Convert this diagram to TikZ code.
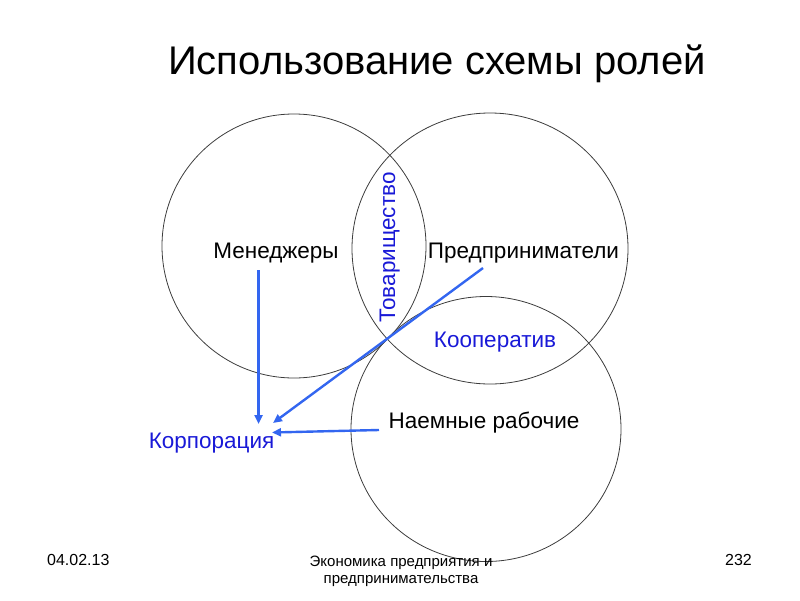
\documentclass[tikz,border=0pt]{standalone}
\usepackage{fontspec}
\setmainfont{Liberation Sans}
\usetikzlibrary{arrows.meta}
\definecolor{arrblue}{RGB}{51,102,240}
\definecolor{txtblue}{RGB}{25,25,215}
\definecolor{circ}{RGB}{60,60,60}
\tikzset{
  ring/.style={draw=circ, line width=0.8pt},
  lbl/.style={font=\fontsize{22.5}{26}\selectfont, inner sep=0pt},
  bluelbl/.style={lbl, text=txtblue},
  foot/.style={font=\fontsize{15}{17}\selectfont, inner sep=0pt},
  footnum/.style={font=\fontsize{16}{18}\selectfont, inner sep=0pt},
  link/.style={draw=arrblue, line width=2.4pt, -{Triangle[length=9pt,width=8pt]}}
}
\begin{document}
\begin{tikzpicture}[x=1pt,y=-1pt]
\useasboundingbox (0,0) rectangle (800,600);
\draw[ring] (294,246) circle [radius=132pt];
\draw[ring] (490,248.5) circle [x radius=138pt, y radius=135.5pt];
\draw[ring] (486,429) circle [x radius=135pt, y radius=132.5pt];
\node[font=\fontsize{40}{46}\selectfont, inner sep=0pt, anchor=base] (title) at (437,74) {Использование схемы ролей};
\node[lbl, anchor=base] (men) at (276,258) {Менеджеры};
\node[lbl, anchor=base] (pred) at (523.5,258) {Предприниматели};
\node[lbl, anchor=base] (naem) at (484,428) {Наемные рабочие};
\node[bluelbl, anchor=base] (coop) at (495,347) {Кооператив};
\node[bluelbl, anchor=base] (corp) at (211.5,448) {Корпорация};
\node[bluelbl, anchor=base, rotate=90] (tov) at (395,247.5) {Товарищество};
\node[footnum, anchor=base west] (date) at (47,565) {04.02.13};
\node[footnum, anchor=base east] (page) at (752,565) {232};
\node[foot, align=center, anchor=base] (subj) at (401,583) {Экономика предприятия и\\предпринимательства};
\coordinate (s1) at (258.5,270);
\coordinate (e1) at (258.5,424);
\coordinate (s2) at (483,268);
\coordinate (e2) at (273,423);
\coordinate (s3) at (379,430);
\coordinate (e3) at (272,432.5);
\draw[link] (s1) -- (e1);
\draw[link] (s2) -- (e2);
\draw[link] (s3) -- (e3);
\end{tikzpicture}
\end{document}
